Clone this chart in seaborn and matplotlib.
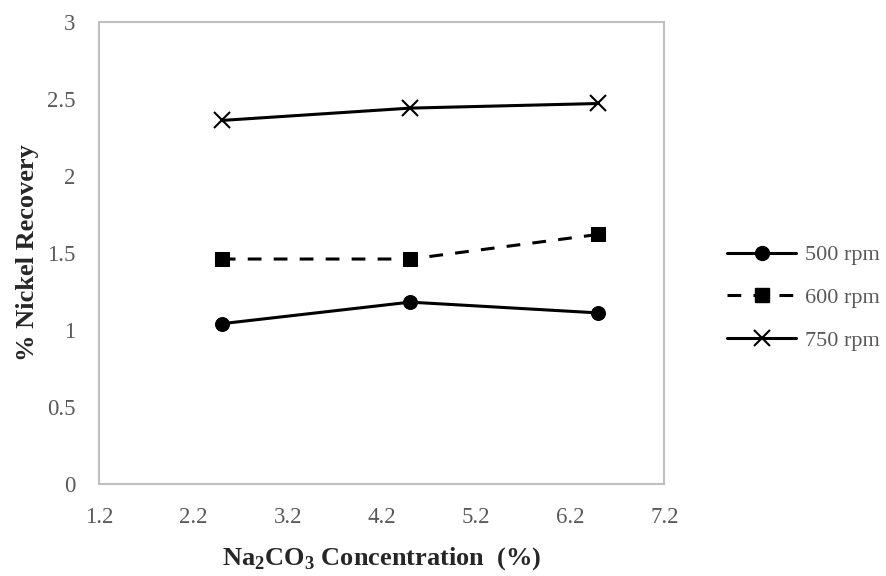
import pandas as pd
import matplotlib
matplotlib.use("Agg")
import matplotlib.pyplot as plt
import seaborn as sns
from matplotlib.lines import Line2D

# dati
conc = [2.5, 4.5, 6.5]
rpm_500 = [1.04, 1.18, 1.11]
rpm_600 = [1.46, 1.46, 1.62]
rpm_750 = [2.36, 2.44, 2.47]
series_names = ["500 rpm", "600 rpm", "750 rpm"]
x_ticks = [1.2, 2.2, 3.2, 4.2, 5.2, 6.2, 7.2]
y_ticks = [0, 0.5, 1, 1.5, 2, 2.5, 3]

sns.set_style("white")
plt.rcParams["font.family"] = ["Liberation Serif", "DejaVu Serif"]
plt.rcParams["mathtext.fontset"] = "custom"
plt.rcParams["mathtext.rm"] = "Liberation Serif"
plt.rcParams["mathtext.bf"] = "Liberation Serif:bold"

fig = plt.figure(figsize=(8.87, 5.76), dpi=100)
ax = fig.add_axes([0.112, 0.16, 0.637, 0.802])

# stili per serie
dash = (4.5, 4)
styles = {
    "500 rpm": dict(marker="o", markersize=10, linestyle="-"),
    "600 rpm": dict(marker="s", markersize=10, dashes=dash),
    "750 rpm": dict(marker="x", markersize=12, markeredgewidth=1.5, linestyle="-"),
}
for name, vals in zip(series_names, [rpm_500, rpm_600, rpm_750]):
    sns.lineplot(x=conc, y=vals, color="black", linewidth=2.2, ax=ax,
                 markeredgecolor="black", **styles[name])

ax.set_xlim(1.2, 7.2)
ax.set_ylim(0, 3)
ax.set_xticks(x_ticks)
ax.set_xticklabels([f"{t:.1f}" for t in x_ticks])
ax.set_yticks(y_ticks)
ax.set_yticklabels(["0", "0.5", "1", "1.5", "2", "2.5", "3"])

for sp in ax.spines.values():
    sp.set_color("#bfbfbf")
    sp.set_linewidth(1.5)
ax.tick_params(axis="both", direction="in", length=7, width=1.2, color="#bfbfbf",
               labelcolor="#595959", labelsize=16.5)
ax.tick_params(axis="x", pad=17)
ax.tick_params(axis="y", pad=17)

ax.set_xlabel(r"Na$_{\mathbf{2}}$CO$_{\mathbf{3}}$ Concentration  (%)", fontsize=19,
              fontweight="bold", labelpad=12)
ax.set_ylabel("% Nickel Recovery", fontsize=19, fontweight="bold", labelpad=6)

# legenda manuale
handles = [
    Line2D([], [], color="black", lw=2.2, marker="o", markersize=10),
    Line2D([], [], color="black", lw=2.2, marker="s", markersize=10, dashes=dash),
    Line2D([], [], color="black", lw=2.2, marker="x", markersize=12, markeredgewidth=1.5),
]
fig.legend(handles, series_names, loc="center left", bbox_to_anchor=(0.80, 0.483),
           frameon=False, fontsize=16, labelcolor="#595959", handlelength=3.1,
           handletextpad=0.4, labelspacing=1.0, borderpad=0.3)

plt.savefig("out.png", dpi=100)
